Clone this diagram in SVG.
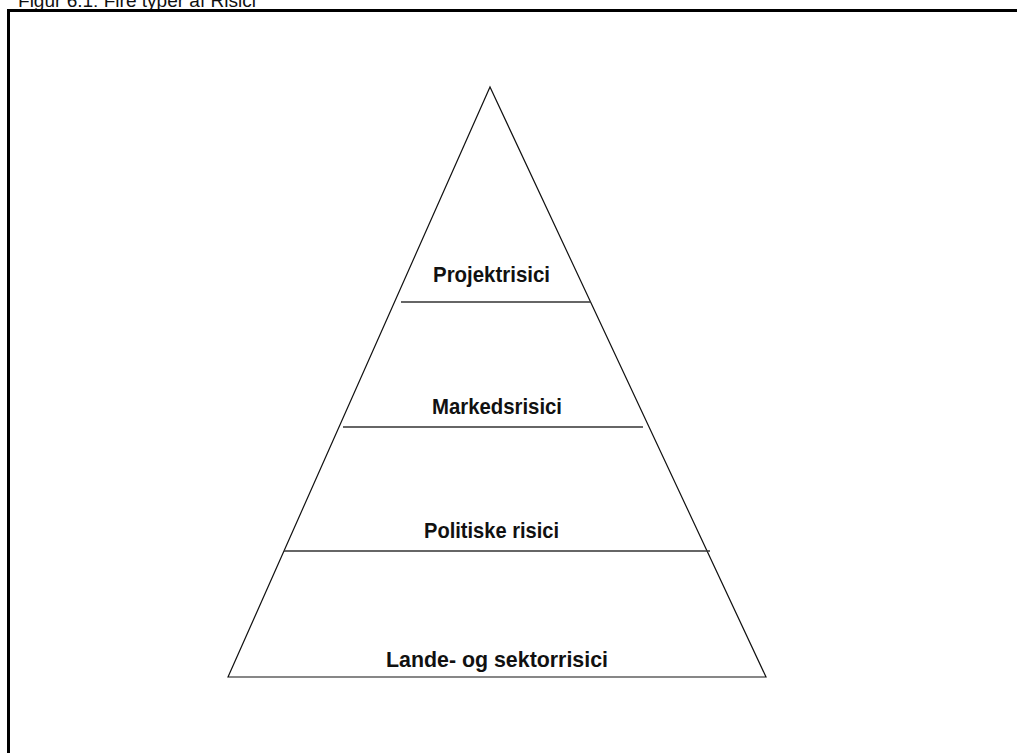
<svg xmlns="http://www.w3.org/2000/svg" width="1017" height="753" viewBox="0 0 1017 753">
<style>
.lbl{font-family:"Liberation Sans",Arial,sans-serif;font-weight:bold;font-size:22px;fill:#111;text-anchor:middle}
.edge{stroke:#111;stroke-width:1.2;fill:none}
.div{stroke:#333;stroke-width:1.5;fill:none}
</style>
<rect width="1017" height="753" fill="#fff"/>
<text x="18" y="7" font-family="Liberation Sans,Arial,sans-serif" font-size="18" fill="#111" textLength="238" lengthAdjust="spacingAndGlyphs">Figur 6.1: Fire typer af Risici</text>
<path d="M8.5,760 V10.5 H1030" stroke="#000" stroke-width="3" fill="none"/>
<g id="pyramid">
<path class="edge" d="M228,677 L490,87 L766,677 Z"/>
</g>
<g id="connectors">
<line class="div" x1="401" y1="302" x2="591" y2="302"/>
<line class="div" x1="343" y1="427" x2="643" y2="427"/>
<line class="div" x1="284" y1="551" x2="710" y2="551"/>
</g>
<g id="projektrisici"><text class="lbl" x="491.5" y="282" textLength="117" lengthAdjust="spacingAndGlyphs">Projektrisici</text></g>
<g id="markedsrisici"><text class="lbl" x="497" y="414" textLength="130" lengthAdjust="spacingAndGlyphs">Markedsrisici</text></g>
<g id="politiske"><text class="lbl" x="491.5" y="538" textLength="135" lengthAdjust="spacingAndGlyphs">Politiske risici</text></g>
<g id="lande"><text class="lbl" x="497" y="667" textLength="222" lengthAdjust="spacingAndGlyphs">Lande- og sektorrisici</text></g>
</svg>
